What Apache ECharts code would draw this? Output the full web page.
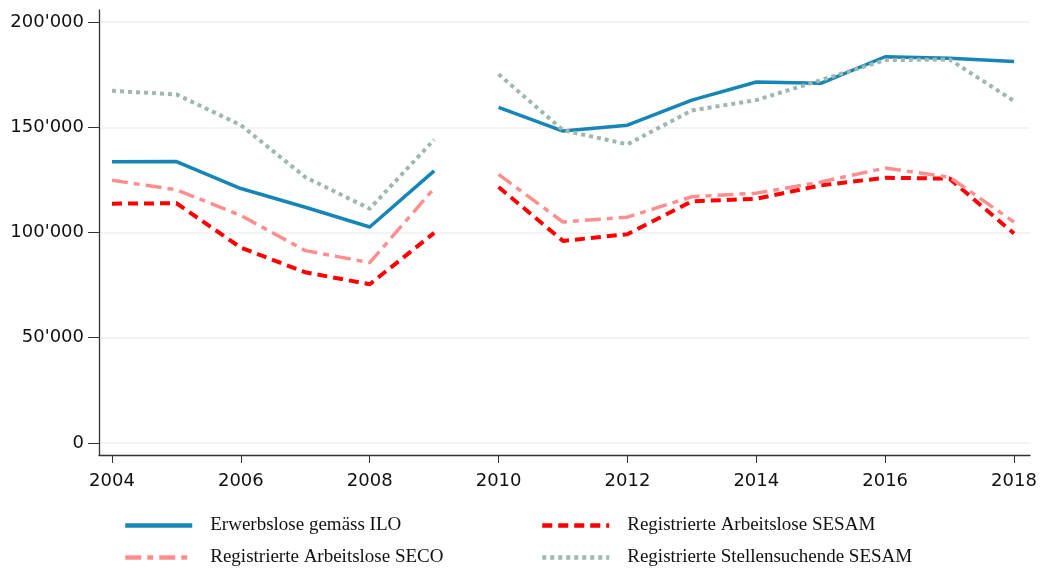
<!DOCTYPE html>
<html>
<head>
<meta charset="utf-8">
<script src="https://cdn.jsdelivr.net/npm/echarts@6/dist/echarts.min.js"></script>
<style>html,body{margin:0;padding:0;background:#fff}#c{width:1041px;height:569px}</style>
</head>
<body>
<div id="c"></div>
<script>
const years = [2004,2005,2006,2007,2008,2009,2010,2011,2012,2013,2014,2015,2016,2017,2018];
const breakAfter = 2009; // series are interrupted between 2009 and 2010
const ilo   = [133600,133700,120900,112000,102600,129300,159400,148200,151000,162900,171500,170900,183500,182800,181200];
const sesamArb = [113700,113900,92800,81100,75400,99800,121600,96000,99200,114800,116000,122400,126000,125600,99500];
const seco  = [124800,120300,108100,91400,85700,121000,127600,105000,107300,117000,118700,124000,130600,126300,105000];
const stell = [167300,165600,151000,126300,111300,144100,175200,148600,141900,158000,162900,172400,181900,182200,162500];
const xTicks = [2004,2006,2008,2010,2012,2014,2016,2018];
const yTicks = [0,50000,100000,150000,200000];
const names = ['Erwerbslose gemäss ILO','Registrierte Arbeitslose SESAM','Registrierte Arbeitslose SECO','Registrierte Stellensuchende SESAM'];

function build(vals){
  const out = [];
  years.forEach((y,i)=>{
    out.push([y, vals[i]]);
    if (y === breakAfter) out.push([y + 0.5, null]);
  });
  return out;
}
const fmt = v => String(v).replace(/\B(?=(\d{3})+(?!\d))/g, "'");
const serif = 'Liberation Serif';
const sans = 'DejaVu Sans';

const chart = echarts.init(document.getElementById('c'), null, {renderer:'canvas'});
const mk = (name, vals, color, width, type) => ({
  name, type:'line', data: build(vals), symbol:'none', connectNulls:false,
  lineStyle:{color, width, type, join:'round'},
  itemStyle:{color}, z: 2
});
const leg = (name, left, top) => ({
  data:[name], left, top, padding:0, itemWidth:67, itemHeight:14, itemGap:0,
  itemStyle:{opacity:0}, lineStyle:{width:4.5},
  textStyle:{fontFamily:serif, fontSize:19, color:'#111', padding:[0,0,0,13]}
});
chart.setOption({
  animation:false,
  grid:{left:99, right:11, top:10, bottom:114, containLabel:false},
  xAxis:{
    type:'value', min:2003.798, max:2018.248,
    axisLine:{show:true, onZero:false, lineStyle:{color:'#333', width:1.3}},
    axisTick:{show:true, length:8, customValues:xTicks, lineStyle:{color:'#333'}},
    axisLabel:{customValues:xTicks, color:'#111', fontFamily:sans, fontSize:18, margin:17, formatter:v=>String(v)},
    splitLine:{show:false}
  },
  yAxis:{
    type:'value', min:-5714, max:205714,
    axisLine:{show:true, onZero:false, lineStyle:{color:'#333', width:1.3}},
    axisTick:{show:true, length:11, customValues:yTicks, lineStyle:{color:'#333'}},
    axisLabel:{customValues:yTicks, color:'#111', fontFamily:sans, fontSize:18, margin:15, formatter:fmt},
    splitLine:{show:true, lineStyle:{color:'#f1f1f1', width:1.5}}
  },
  legend:[
    leg(names[0], 123, 516),
    leg(names[1], 540, 516),
    leg(names[2], 123, 548),
    leg(names[3], 540, 548)
  ],
  series:[
    mk(names[0], ilo, '#1686b7', 3.5, 'solid'),
    mk(names[1], sesamArb, '#ff0000', 4, [10,6]),
    mk(names[2], seco, '#ff8f8f', 3.5, [16,6,6,6]),
    mk(names[3], stell, '#9db8ae', 4, [4,4])
  ]
});
</script>
</body>
</html>
